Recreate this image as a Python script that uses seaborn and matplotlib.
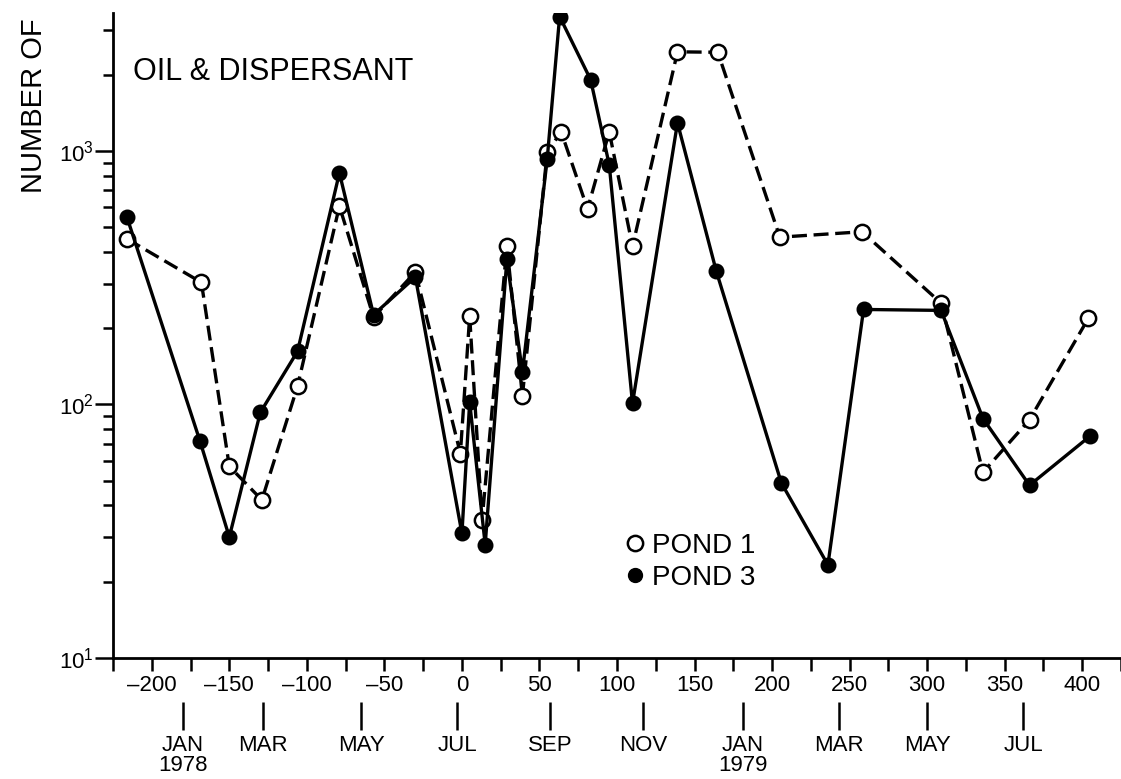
import numpy as np
import pandas as pd
import seaborn as sns
import matplotlib.pyplot as plt
from matplotlib.lines import Line2D
from matplotlib.ticker import LogLocator, NullFormatter, MultipleLocator, FixedLocator

sns.set_style("ticks")
plt.rcParams['font.family'] = ['Liberation Sans', 'DejaVu Sans']
plt.rcParams['mathtext.default'] = 'regular'
plt.rcParams['text.color'] = 'black'
plt.rcParams['xtick.color'] = 'black'
plt.rcParams['ytick.color'] = 'black'

# pond 1 (open circles, dashed)
pond1_day = [-216, -168, -150, -129, -106, -79, -57, -30, -1, 5, 13, 29, 39,
             55, 64, 81, 95, 110, 139, 165, 205, 258, 309, 336, 366, 404]
pond1_count = [450, 303, 57, 42, 118, 606, 221, 333, 64, 223, 35, 421, 108,
               990, 1190, 590, 1190, 420, 2460, 2450, 457, 480, 251, 54, 87, 219]

# pond 3 (filled circles, solid)
pond3_day = [-216, -169, -150, -130, -106, -79, -57, -30, 0, 5, 15, 29, 39,
             55, 63, 83, 95, 110, 139, 164, 206, 236, 259, 309, 336, 366, 405]
pond3_count = [548, 72, 30, 93, 162, 819, 226, 318, 31, 102, 28, 374, 134,
               930, 3390, 1910, 881, 101, 1291, 336, 49, 23.3, 237, 235, 88, 48, 75]

day_ticks = list(range(-200, 401, 50))
month_days = [-180, -128, -65, -3, 57, 117, 181, 243, 300, 362]
month_labels = ["JAN\n1978", "MAR", "MAY", "JUL", "SEP", "NOV",
                "JAN\n1979", "MAR", "MAY", "JUL"]

p1 = pd.DataFrame({"day": pond1_day, "count": pond1_count})
p3 = pd.DataFrame({"day": pond3_day, "count": pond3_count})

fig = plt.figure(figsize=(11.21, 7.79), dpi=100)
ax = fig.add_axes([113/1121, 121/779, 1 - 113/1121, 645/779])

sns.lineplot(data=p1, x="day", y="count", ax=ax, estimator=None, sort=False,
             color="black", lw=2.4, linestyle=(0, (4.5, 2)), marker="o",
             markersize=11, markerfacecolor="white", markeredgecolor="black",
             markeredgewidth=1.8, zorder=3)
sns.lineplot(data=p3, x="day", y="count", ax=ax, estimator=None, sort=False,
             color="black", lw=2.4, marker="o", markersize=10,
             markerfacecolor="black", markeredgecolor="black",
             markeredgewidth=1.5, zorder=4)

ax.set_yscale("log")
ax.set_ylim(10, 3500)
ax.set_xlim(-225, 425)
ax.yaxis.set_major_locator(FixedLocator([10, 100, 1000]))
ax.set_yticklabels(["$10^1$", "$10^2$", "$10^3$"])
ax.yaxis.set_minor_locator(LogLocator(base=10, subs=np.arange(2, 10)))
ax.yaxis.set_minor_formatter(NullFormatter())
ax.set_xticks(day_ticks)
ax.set_xticklabels([str(d).replace("-", "\u2013") for d in day_ticks])
ax.xaxis.set_minor_locator(MultipleLocator(25))

for side in ["top", "right"]:
    ax.spines[side].set_visible(False)
for side in ["left", "bottom"]:
    ax.spines[side].set_linewidth(2.0)
    ax.spines[side].set_color("black")

ax.tick_params(axis="x", which="both", length=9, width=1.8, direction="out",
               labelsize=16, pad=3)
ax.tick_params(axis="y", which="major", length=13, width=1.8, labelsize=16, pad=1)
ax.tick_params(axis="y", which="minor", length=7, width=1.8)
ax.set_xlabel("")
ax.set_ylabel("")

sec = ax.secondary_xaxis(-0.068)
sec.set_xticks(month_days, labels=month_labels)
sec.spines["bottom"].set_visible(False)
sec.tick_params(axis="x", length=20, width=1.8, pad=4, labelsize=16)
for lab in sec.get_xticklabels():
    lab.set_linespacing(0.95)

fig.text(133/1121, 1 - 72/779, "OIL & DISPERSANT", fontsize=22, va="center", ha="left")
fig.text(34/1121, 1 - 193/779, "NUMBER OF", fontsize=21, rotation=90,
         va="bottom", ha="center")

handles = [
    Line2D([], [], ls="none", marker="o", markersize=11, markerfacecolor="white",
           markeredgecolor="black", markeredgewidth=1.8),
    Line2D([], [], ls="none", marker="o", markersize=10, markerfacecolor="black",
           markeredgecolor="black"),
]
ax.legend(handles, ["POND 1", "POND 3"], loc="upper left",
          bbox_to_anchor=(624/1121, 1 - 533/779), bbox_transform=fig.transFigure,
          frameon=False, fontsize=20, handlelength=0.8, handletextpad=0.2,
          labelspacing=0.2, borderaxespad=0, borderpad=0)

fig.savefig("out.png", dpi=100)
